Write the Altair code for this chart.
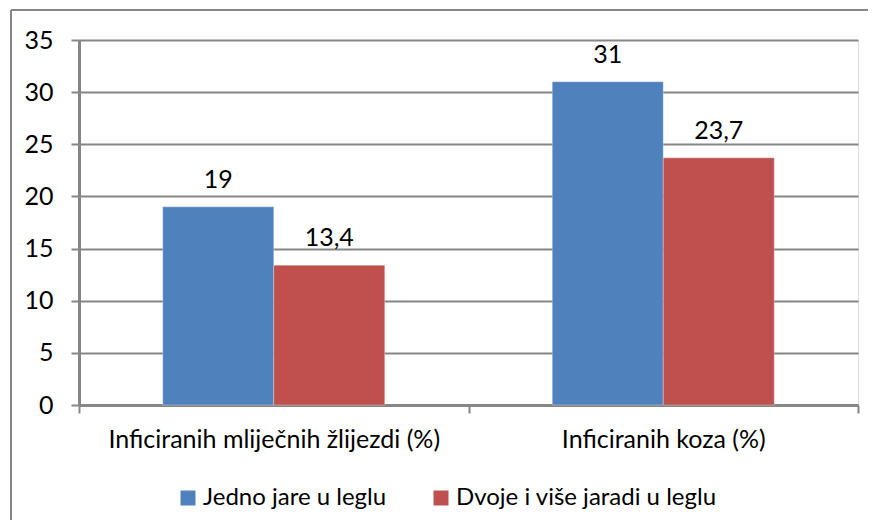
import altair as alt
import pandas as pd

categories = ["Inficiranih mliječnih žlijezdi (%)", "Inficiranih koza (%)"]
series = ["Jedno jare u leglu", "Dvoje i više  jaradi u leglu"]
values_one = [19, 31]
values_two = [13.4, 23.7]
labels_one = ["19", "31"]
labels_two = ["13,4", "23,7"]
colors = ["#4F81BD", "#C0504D"]
y_ticks = [0, 5, 10, 15, 20, 25, 30, 35]

rows = []
for c, v, l in zip(categories, values_one, labels_one):
    rows.append({"cat": c, "series": series[0], "value": v, "label": l})
for c, v, l in zip(categories, values_two, labels_two):
    rows.append({"cat": c, "series": series[1], "value": v, "label": l})
df = pd.DataFrame(rows)

FONT = "Lato"
GRAY = "#868686"
FS = 25

x_enc = alt.X(
    "cat:N", sort=categories, title=None,
    scale=alt.Scale(paddingInner=0, paddingOuter=0),
    axis=alt.Axis(labelAngle=0, labelFontSize=FS, labelColor="#000000", labelFont=FONT,
                  domainColor=GRAY, domainWidth=3, tickColor=GRAY, tickWidth=2,
                  tickSize=8, tickBand="extent", grid=False, labelPadding=14,
                  labelLimit=0),
)
xo_enc = alt.XOffset("series:N", sort=series,
                     scale=alt.Scale(paddingInner=0, paddingOuter=0.7545))
y_enc = alt.Y(
    "value:Q", title=None,
    scale=alt.Scale(domain=[0, 35], nice=False),
    axis=alt.Axis(values=y_ticks, labelFontSize=FS, labelColor="#000000", labelFont=FONT,
                  domainColor=GRAY, domainWidth=3, tickColor=GRAY, tickWidth=2,
                  tickSize=8, labelPadding=18, grid=True, gridColor=GRAY, gridWidth=2),
)

bars = alt.Chart(df).mark_bar(stroke="#FFFFFF", strokeWidth=0.5, strokeOpacity=0.6).encode(
    x=x_enc,
    xOffset=xo_enc,
    y=y_enc,
    color=alt.Color(
        "series:N", sort=series,
        scale=alt.Scale(domain=series, range=colors),
        legend=alt.Legend(title=None, orient="none", legendX=97, legendY=446,
                          direction="horizontal", symbolType="square", symbolSize=225,
                          symbolStrokeWidth=0, labelFontSize=24, labelFont=FONT,
                          labelColor="#000000", columnPadding=42, labelOffset=3,
                          labelLimit=0),
    ),
)

texts = alt.Chart(df).mark_text(fontSize=FS, font=FONT, color="#000000",
                                baseline="alphabetic", dy=-19).encode(
    x=alt.X("cat:N", sort=categories),
    xOffset=alt.XOffset("series:N", sort=series),
    y=alt.Y("value:Q"),
    text="label:N",
)

frame_top = alt.Chart(df).mark_rule(color=GRAY, strokeWidth=2).encode(
    x=alt.value(-68), x2=alt.value(800), y=alt.value(-30)
)
frame_left = alt.Chart(df).mark_rule(color=GRAY, strokeWidth=2).encode(
    x=alt.value(-68), y=alt.value(-30), y2=alt.value(500)
)

chart = alt.layer(bars, texts, frame_top, frame_left).properties(
    width=779, height=365,
    autosize=alt.AutoSizeParams(type="none"),
    padding={"left": 71, "top": 32, "right": 10, "bottom": 115},
).configure_view(stroke=None).configure(font=FONT)

chart.save("out.html", embed_options={"renderer": "svg", "actions": False})
